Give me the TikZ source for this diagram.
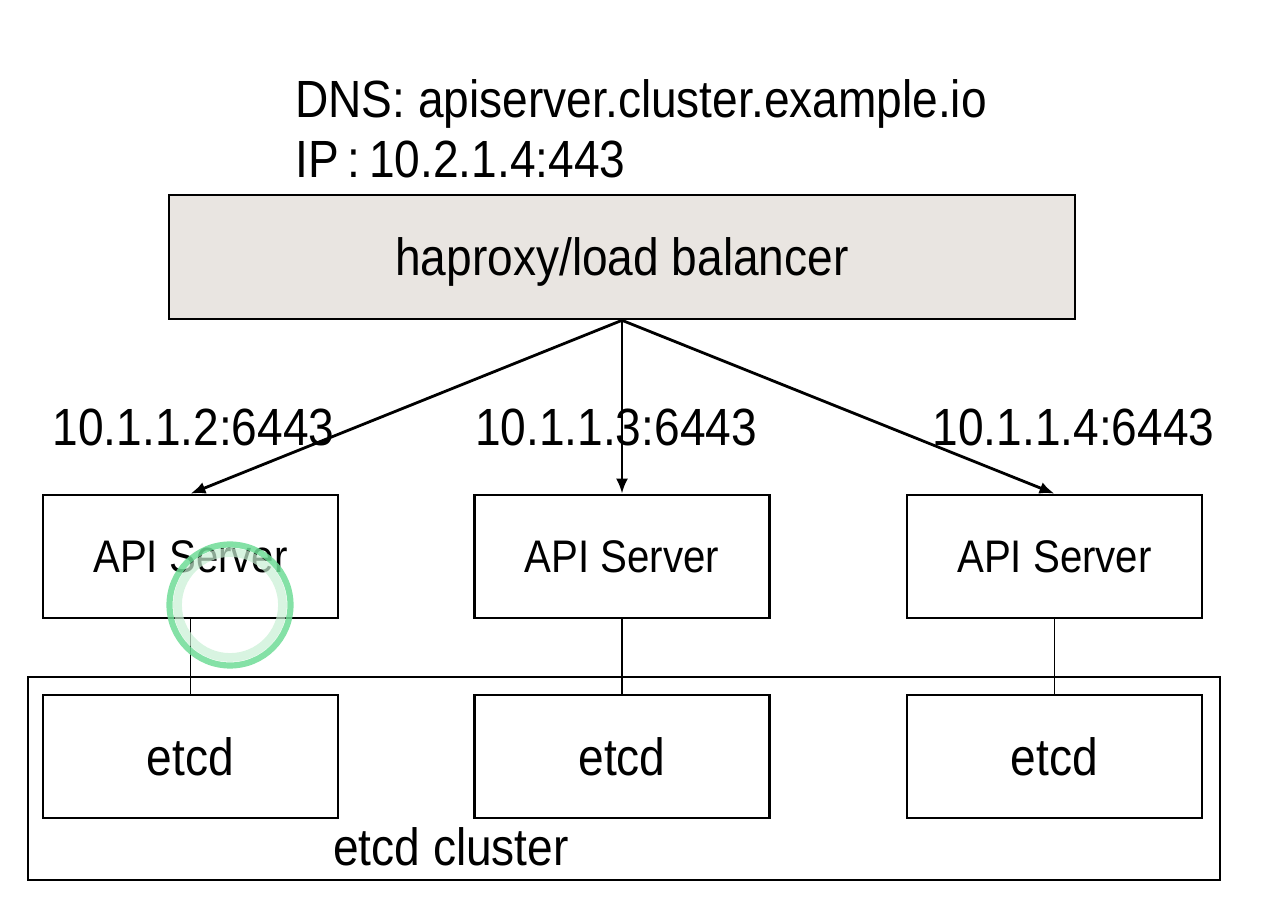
\documentclass[tikz,border=0pt]{standalone}
\usepackage{fontspec}
\setmainfont{Liberation Sans}[FakeStretch=0.88]
\usepackage{tikz}
\usetikzlibrary{arrows.meta, positioning}
\definecolor{lbgrey}{RGB}{233,229,225}
\definecolor{ringgreen}{RGB}{110,220,150}
\definecolor{ringpale}{RGB}{200,240,212}

\tikzset{
    box/.style={draw, line width=1.5pt, minimum width=5.9cm, minimum height=2.46cm, inner sep=0pt},
    bigtext/.style={font=\fontsize{29.8}{34}\selectfont},
    apitext/.style={font=\fontsize{26}{30}\selectfont},
    link/.style={line width=1.6pt, -{Latex[length=0.3cm,width=0.24cm]}},
    wire/.style={line width=1pt}
}

\begin{document}
\begin{tikzpicture}
        \useasboundingbox (0,0) rectangle (25.74,-18.4);
        % load balancer and its address
        \node[anchor=base west, inner sep=0pt, bigtext] (dns) at (5.9,-2.36) {DNS: apiserver.cluster.example.io};
        \node[anchor=base west, inner sep=0pt, bigtext] (ip) at (5.9,-3.56) {IP\,:\,10.2.1.4:443};
        \node[box, fill=lbgrey, minimum width=18.12cm, minimum height=2.48cm, text depth=0pt, bigtext] (lb) at (12.44,-5.14) {haproxy/load balancer};
        % etcd cluster frame
        \node[draw, line width=1.5pt, minimum width=23.84cm, minimum height=4.06cm] (cluster) at (12.48,-15.57) {};
        \node[bigtext, inner sep=0pt] (clusterlabel) at (9.02,-16.94) {etcd cluster};
        % api servers and etcd members
        \node[box, apitext] (api1) at (3.81,-11.13) {API Server};
        \node[box, apitext] (api2) at (12.44,-11.13) {API Server};
        \node[box, apitext] (api3) at (21.09,-11.13) {API Server};
        \node[box, bigtext] (etcd1) at (3.81,-15.13) {etcd};
        \node[box, bigtext] (etcd2) at (12.44,-15.13) {etcd};
        \node[box, bigtext] (etcd3) at (21.09,-15.13) {etcd};
        % backend addresses
        \node[bigtext, inner sep=0pt] (addr1) at (3.87,-8.54) {10.1.1.2:6443};
        \node[bigtext, inner sep=0pt] (addr2) at (12.32,-8.54) {10.1.1.3:6443};
        \node[bigtext, inner sep=0pt] (addr3) at (21.47,-8.54) {10.1.1.4:6443};
        \draw[link] (lb.south) -- (api1.north);
        \draw[link] (lb.south) -- (api2.north);
        \draw[link] (lb.south) -- (api3.north);
        \draw[wire] (api1.south) -- (etcd1.north);
        \draw[wire] (api2.south) -- (etcd2.north);
        \draw[wire] (api3.south) -- (etcd3.north);
        % pointer highlight
        \node[draw=ringpale, line width=5pt, circle, minimum size=2.1cm, opacity=0.7] (pointerin) at (4.6,-12.1) {};
        \node[draw=ringgreen, line width=3.5pt, circle, minimum size=2.42cm, opacity=0.85] (pointer) at (4.6,-12.1) {};
    \end{tikzpicture}
\end{document}
